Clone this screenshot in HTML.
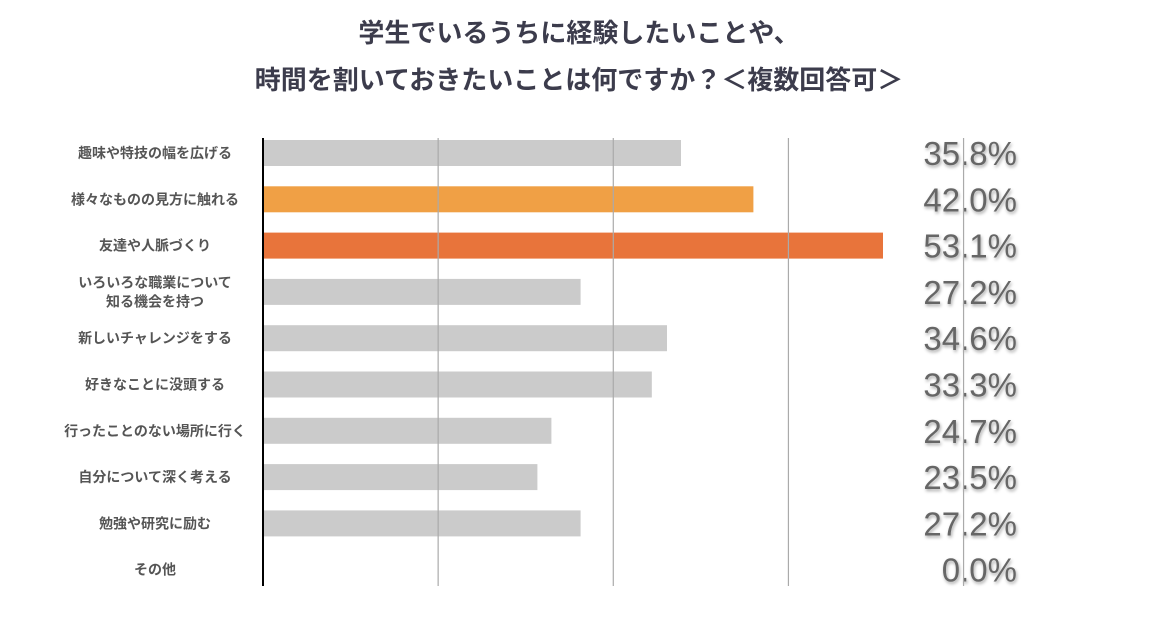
<!DOCTYPE html>
<html><head><meta charset="utf-8">
<style>
body{margin:0;background:#fff;}
svg{display:block;font-family:"Liberation Sans","Noto Sans CJK JP",sans-serif;}
</style></head>
<body>
<svg id="chart" width="1158" height="618" xmlns="http://www.w3.org/2000/svg">
<defs><filter id="sh" x="-20%" y="-20%" width="140%" height="160%"><feDropShadow dx="1" dy="2" stdDeviation="1.5" flood-color="#000" flood-opacity="0.35"/></filter></defs>
<text x="579" y="42" text-anchor="middle" font-size="26" font-weight="bold" fill="#3c3c4c">学生でいるうちに経験したいことや、</text>
<text x="579" y="89" text-anchor="middle" font-size="26" font-weight="bold" fill="#3c3c4c">時間を割いておきたいことは何ですか？＜複数回答可＞</text>
<g id="bars"></g>
<g id="grid"></g>
</svg>
<script>
const categories=[["趣味や特技の幅を広げる"],["様々なものの見方に触れる"],["友達や人脈づくり"],["いろいろな職業について","知る機会を持つ"],["新しいチャレンジをする"],["好きなことに没頭する"],["行ったことのない場所に行く"],["自分について深く考える"],["勉強や研究に励む"],["その他"]];
const values=[35.8,42.0,53.1,27.2,34.6,33.3,24.7,23.5,27.2,0.0];
const colors=["#cbcbcb","#f0a045","#e8743b","#cbcbcb","#cbcbcb","#cbcbcb","#cbcbcb","#cbcbcb","#cbcbcb","#cbcbcb"];
const gridTicks=[15,30,45,60];
const NS="http://www.w3.org/2000/svg";
const x0=263,pxPer=(883-263)/53.1;
const xs=v=>x0+v*pxPer;
const ys=i=>153+i*46.3;
const bars=document.getElementById('bars'),grid=document.getElementById('grid');
function mk(tag,attrs,parent){const e=document.createElementNS(NS,tag);for(const k in attrs)e.setAttribute(k,attrs[k]);parent.appendChild(e);return e;}
values.forEach((v,i)=>{
  const cy=ys(i);
  if(v>0){const r=mk('rect',{x:x0,y:cy-13,width:xs(v)-x0,height:26,fill:colors[i]},bars);
  
  }
  const lines=categories[i];
  const t=mk('text',{x:155,'text-anchor':'middle','font-size':14,'font-weight':'bold',fill:'#555'},bars);
  
  
  lines.forEach((l,j)=>{const ts=mk('tspan',{x:155,y:cy+5+(j-(lines.length-1)/2)*19},t);ts.textContent=l;});
  const vt=mk('text',{x:1017,y:cy+12,'text-anchor':'end','font-size':33,fill:'#666',filter:'url(#sh)'},bars);
  
  
  vt.textContent=v.toFixed(1)+'%';
});
gridTicks.forEach(g=>{const l=mk('line',{x1:xs(g),x2:xs(g),y1:138,y2:586,stroke:'#aaa','stroke-width':1.2},grid);

});
const ax=mk('line',{x1:x0,x2:x0,y1:138,y2:586,stroke:'#000','stroke-width':2},grid);


</script>
</body></html>
